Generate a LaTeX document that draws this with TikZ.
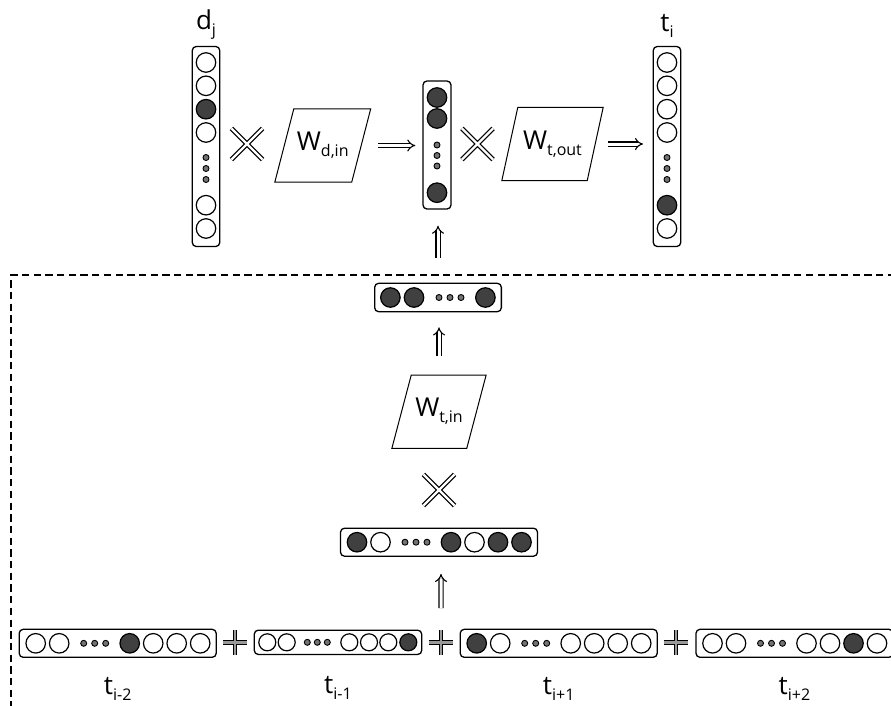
\documentclass[tikz,border=0pt]{standalone}
\usepackage{fontspec}
\setmainfont{Open Sans}
\usetikzlibrary{positioning,arrows.meta,shapes.misc}
\newcommand\lowidx[1]{\raisebox{-6pt}{\fontsize{16}{16}\selectfont #1}}

\begin{document}
\begin{tikzpicture}[x=1pt, y=-1pt,
    vec/.style={draw, line width=1.3pt, rounded corners=4pt, inner sep=0},
    cold/.style={circle, draw, line width=1.2pt, fill=white, minimum size=19.5pt, inner sep=0},
    hot/.style={cold, fill=black!75},
    colds/.style={cold, minimum size=17pt},
    hots/.style={hot, minimum size=17pt},
    dot/.style={circle, draw, line width=0.9pt, fill=black!55, minimum size=6pt, inner sep=0},
    mat/.style={minimum height=73pt, inner sep=0, font=\fontsize{26}{30}\selectfont},
    lab/.style={font=\fontsize{26}{30}\selectfont, inner sep=0},
    times/.style={cross out, draw, line width=1.2pt, double=white, double distance=2.4pt, minimum size=30pt, inner sep=0},
    plus/.style={cross out, draw, line width=1.2pt, double=black!40, double distance=2.4pt, rotate=45, minimum size=16.3pt, inner sep=0},
    imp/.style={line width=1.1pt, double, double distance=3pt, -{Implies}},
]
\useasboundingbox (0,0) rectangle (891,705);

% context window (dashed frame)
\draw[line width=1.3pt, dash pattern=on 7.3pt off 4.4pt] (895,275) -| (11,710);

% one-hot input/output vectors
\node[vec, minimum width=27.5pt, minimum height=200pt] (dj) at (206,146.5) {};
\node[vec, minimum width=27.5pt, minimum height=200pt] (ti) at (667,146.5) {};
\node[lab, above=6pt of dj] {d\lowidx{j}};
\node[lab, above=8pt of ti] {t\lowidx{i}};
\foreach \dy/\s in {84/cold,60.7/cold,37.3/hot,14/cold,-58.7/cold,-82/cold}
  \node[\s] at ([yshift=\dy pt]dj.center) {};
\foreach \dy/\s in {84/cold,60.7/cold,37.3/cold,14/cold,-58.7/hot,-82/cold}
  \node[\s] at ([yshift=\dy pt]ti.center) {};
\foreach \v in {dj,ti}
  \foreach \dy in {-11,-22,-33}
    \node[dot] at ([yshift=\dy pt]\v.center) {};

% hidden layer
\node[vec, minimum width=28pt, minimum height=128pt] (hid) at (437,145) {};
\foreach \dy in {47.5,26.5,-47.7}
  \node[hot] at ([yshift=\dy pt]hid.center) {};
\foreach \dy in {0,-10.5,-21}
  \node[dot] at ([yshift=\dy pt]hid.center) {};

% weight matrices
\node[mat, minimum width=76.5pt] (wdin) at (322.75,145.5) {W\lowidx{d,in}};
\node[mat, minimum width=85pt] (wtout) at (552.5,144) {W\lowidx{t,out}};
\node[mat, minimum width=74.5pt] (wtin) at (439,411.7) {W\lowidx{t,in}};
\foreach \w/\s in {wdin/9.5, wtout/8, wtin/9.7}
  \draw[line width=1pt] ([xshift=-\s pt]\w.south west) -- ([xshift=-\s pt]\w.south east)
    -- ([xshift=\s pt]\w.north east) -- ([xshift=\s pt]\w.north west) -- cycle;

\node[times] (x1) at (247,144) {};
\node[times] (x2) at (477.5,144) {};
\node[times] (x3) at (439,490) {};

% projected context and summed context
\node[vec, minimum width=126.7pt, minimum height=28.4pt] (proj) at (438,297.5) {};
\foreach \dx in {-47.6,-24,47.4}
  \node[hot] at ([xshift=\dx pt]proj.center) {};
\foreach \dx in {1,12,23}
  \node[dot] at ([xshift=\dx pt]proj.center) {};

\node[vec, minimum width=197pt, minimum height=28pt] (sum) at (439,542.2) {};
\foreach \dx/\s in {-82/hot,-58.5/cold,12/hot,35.5/cold,59/hot,82.5/hot}
  \node[\s] at ([xshift=\dx pt]sum.center) {};

% context words
\node[vec, minimum width=197pt, minimum height=28pt] (tm2) at (117.7,643.3) {};
\node[vec, minimum width=167.4pt, minimum height=24.3pt] (tm1) at (338,642.3) {};
\node[vec, minimum width=197pt, minimum height=28pt] (tp1) at (558.7,643.3) {};
\node[vec, minimum width=197pt, minimum height=28pt] (tp2) at (794.5,643.3) {};
\foreach \dx/\s in {-82/cold,-58.5/cold,12/hot,35.5/cold,59/cold,82.5/cold}
  \node[\s] at ([xshift=\dx pt]tm2.center) {};
\foreach \dx/\s in {-70.7/colds,-51.3/colds,11.3/colds,31/colds,50.3/colds,70.3/hots}
  \node[\s] at ([xshift=\dx pt]tm1.center) {};
\foreach \dx/\s in {-82/hot,-58.5/cold,12/cold,35.5/cold,59/cold,82.5/cold}
  \node[\s] at ([xshift=\dx pt]tp1.center) {};
\foreach \dx/\s in {-82/cold,-58.5/cold,12/cold,35.5/cold,59/hot,82.5/cold}
  \node[\s] at ([xshift=\dx pt]tp2.center) {};
\foreach \v in {sum,tm2,tp1,tp2}
  \foreach \dx in {-34,-23,-12}
    \node[dot] at ([xshift=\dx pt]\v.center) {};
\foreach \dx in {-30.7,-20.7,-10.7}
  \node[dot] at ([xshift=\dx pt]tm1.center) {};

\node[lab, below=19pt of tm2] {t\lowidx{i-2}};
\node[lab, below=21pt of tm1] {t\lowidx{i-1}};
\node[lab, below=19pt of tp1] {t\lowidx{i+1}};
\node[lab, below=19pt of tp2] {t\lowidx{i+2}};

\node[plus] (p1) at (235,642.5) {};
\node[plus] (p2) at (441,642.5) {};
\node[plus] (p3) at (676,642.5) {};

% data flow
\draw[imp, shorten <=17pt, shorten >=7pt] (wdin.east) -- (wdin.east -| hid.west);
\draw[imp, shorten <=13pt, shorten >=9.5pt] (wtout.east) -- (wtout.east -| ti.west);
\draw[imp, shorten <=25pt, shorten >=16pt] (proj.north) -- (proj.north |- hid.south);
\draw[imp, shorten <=19pt, shorten >=15pt] (wtin.north) -- (wtin.north |- proj.south);
\draw[imp, shorten <=22pt, shorten >=17pt] (p2) -- (p2 |- sum.south);
\end{tikzpicture}
\end{document}
